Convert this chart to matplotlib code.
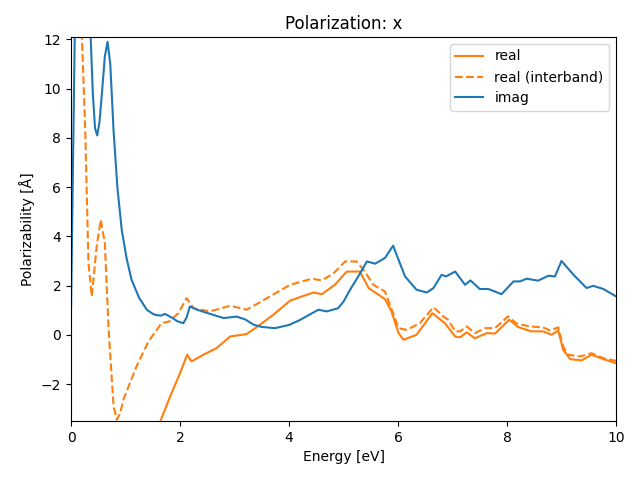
import matplotlib
matplotlib.use("Agg")
import matplotlib.pyplot as plt

# imag
imag_x = [0.0, 0.03, 0.07, 0.15, 0.3, 0.36, 0.4, 0.44, 0.48, 0.52, 0.57, 0.62, 0.67, 0.72, 0.78, 0.85, 0.93, 1.02, 1.11,
          1.25, 1.39, 1.5, 1.57, 1.65, 1.72, 1.85, 1.95, 2.06, 2.12, 2.18, 2.31, 2.45, 2.61, 2.8, 3.04, 3.2,
          3.35, 3.5, 3.74, 4.0, 4.2, 4.4, 4.54, 4.69, 4.9, 5.0, 5.12, 5.27, 5.43, 5.58, 5.76, 5.91, 6.0,
          6.13, 6.34, 6.53, 6.65, 6.8, 6.88, 7.05, 7.23, 7.33, 7.5, 7.66, 7.9, 8.12, 8.24, 8.36, 8.57,
          8.76, 8.88, 9.0, 9.22, 9.46, 9.58, 9.77, 10.0]
imag_y = [1.0, 6.0, 12.5, 16.0, 14.0, 12.1, 9.8, 8.4, 8.1, 8.6, 9.9, 11.3, 11.9, 11.0, 8.3, 6.0, 4.27, 3.1, 2.24,
          1.5, 1.02, 0.85, 0.8, 0.78, 0.85, 0.7, 0.55, 0.47, 0.7, 1.15, 1.02, 0.92, 0.81, 0.68, 0.74, 0.62,
          0.41, 0.32, 0.27, 0.4, 0.6, 0.85, 1.02, 0.95, 1.08, 1.35, 1.83, 2.37, 2.98, 2.89, 3.12, 3.62, 3.1,
          2.37, 1.83, 1.72, 1.9, 2.44, 2.37, 2.57, 2.03, 2.21, 1.86, 1.86, 1.65, 2.17, 2.17, 2.28, 2.2,
          2.4, 2.37, 3.0, 2.44, 1.9, 1.99, 1.86, 1.56]

# real (interband)
inter_x = [0.15, 0.2, 0.26, 0.32, 0.38, 0.47, 0.545, 0.62, 0.69, 0.78, 0.84, 0.9, 0.96, 1.2, 1.42, 1.66,
           1.8, 1.97, 2.12, 2.25, 2.55, 2.92, 3.22, 3.45, 3.65, 4.02, 4.42, 4.6, 4.81, 5.03, 5.24, 5.39,
           5.55, 5.76, 5.91, 6.01, 6.16, 6.4, 6.65, 6.83, 6.92, 7.05, 7.14, 7.26, 7.41, 7.6, 7.78, 8.02,
           8.18, 8.42, 8.66, 8.79, 8.94, 9.03, 9.12, 9.34, 9.55, 9.77, 10.0]
inter_y = [14.0, 12.1, 8.33, 2.9, 1.56, 3.59, 4.67, 3.73, 0.2, -2.9, -3.45, -3.2, -2.64, -1.29, -0.27, 0.47,
           0.54, 0.88, 1.49, 1.08, 0.95, 1.18, 1.02, 1.3, 1.56, 2.03, 2.28, 2.21, 2.48, 2.98, 2.98, 2.57,
           2.03, 1.76, 0.88, 0.27, 0.2, 0.47, 1.12, 0.75, 0.61, 0.14, 0.14, 0.34, 0.07, 0.27, 0.27, 0.75,
           0.45, 0.34, 0.3, 0.18, 0.3, -0.47, -0.81, -0.88, -0.75, -0.95, -1.06]

# real
real_x = [1.6, 1.65, 1.82, 2.0, 2.13, 2.21, 2.43, 2.67, 2.92, 3.22, 3.4, 3.71, 4.02, 4.45, 4.6, 4.84,
          5.06, 5.3, 5.46, 5.76, 5.88, 6.01, 6.1, 6.34, 6.63, 6.86, 7.05, 7.14, 7.26, 7.41, 7.63, 7.78,
          8.04, 8.21, 8.45, 8.66, 8.82, 8.94, 9.03, 9.16, 9.37, 9.55, 9.77, 10.0]
real_y = [-3.8, -3.45, -2.5, -1.56, -0.81, -1.08, -0.81, -0.54, -0.07, 0.03, 0.3, 0.81, 1.39, 1.72, 1.65,
          2.03, 2.57, 2.57, 1.9, 1.45, 0.95, 0.07, -0.2, 0.0, 0.88, 0.47, -0.07, -0.1, 0.1, -0.14, 0.07,
          0.05, 0.61, 0.31, 0.14, 0.14, 0.0, 0.18, -0.61, -0.99, -1.04, -0.81, -0.99, -1.15]

fig, ax = plt.subplots(figsize=(6.4, 4.8), dpi=100)
ax.plot(real_x, real_y, color="C1", label="real")
ax.plot(inter_x, inter_y, color="C1", linestyle="--", label="real (interband)")
ax.plot(imag_x, imag_y, color="C0", label="imag")
ax.set_xlim(0, 10)
ax.set_ylim(-3.5, 12.1)
ax.set_title("Polarization: x")
ax.set_xlabel("Energy [eV]")
ax.set_ylabel("Polarizability [Å]")
ax.legend(loc="upper right")
fig.subplots_adjust(left=0.111, right=0.9625, top=0.923, bottom=0.123)
fig.savefig("out.png", dpi=100)
